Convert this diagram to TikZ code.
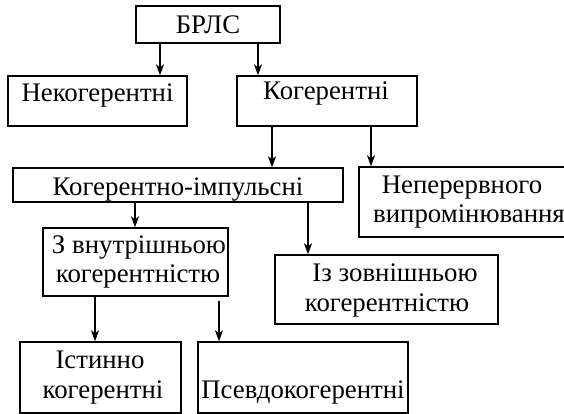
\documentclass[tikz,border=0pt]{standalone}
\usepackage{fontspec}
\setmainfont{Liberation Serif}
\usetikzlibrary{arrows.meta}
\begin{document}
\begin{tikzpicture}[x=1pt,y=-1pt,
  box/.style={draw,line width=1.4pt,inner sep=0pt,rectangle},
  lbl/.style={anchor=base,inner sep=0pt,font=\fontsize{26.8}{30}\selectfont},
  arr/.style={line width=1.8pt,-{Stealth[length=11pt,width=8pt,inset=3pt]}}]
\useasboundingbox (0,0) rectangle (564,414);
% boxes
\node[box,minimum width=144pt,minimum height=37pt] (brls) at (208,24.5) {};
\node[box,minimum width=179pt,minimum height=50pt] (nek) at (97.5,101) {};
\node[box,minimum width=180pt,minimum height=50pt] (kog) at (327,101) {};
\node[box,minimum width=330pt,minimum height=34pt] (ki) at (178,185) {};
\node[box,minimum width=208pt,minimum height=70pt] (nep) at (463,202) {};
\node[box,minimum width=185pt,minimum height=68pt] (zv) at (135.5,262) {};
\node[box,minimum width=223pt,minimum height=69pt] (iz) at (386.5,289.5) {};
\node[box,minimum width=161pt,minimum height=71pt] (ist) at (100.5,377.5) {};
\node[box,minimum width=210pt,minimum height=71pt] (ps) at (303,377.5) {};
% texts
\node[lbl] (tbrls) at (208,34) {БРЛС};
\node[lbl] (tnek) at (97.5,102) {Некогерентні};
\node[lbl] (tkog) at (326,100) {Когерентні};
\node[lbl] (tki) at (178,195) {Когерентно-імпульсні};
\node[lbl] (tnep1) at (462,193) {Неперервного};
\node[lbl] (tnep2) at (469,222) {випромінювання};
\node[lbl] (tzv1) at (139,253) {З внутрішньою};
\node[lbl] (tzv2) at (138,282) {когерентністю};
\node[lbl] (tiz1) at (395,281) {Із зовнішньою};
\node[lbl] (tiz2) at (387,311) {когерентністю};
\node[lbl] (tist1) at (100,368) {Істинно};
\node[lbl] (tist2) at (103,398) {когерентні};
\node[lbl] (tps) at (303,398) {Псевдокогерентні};
% arrows
\draw[arr] (brls.south -| 160,0) -- (nek.north -| 160,0);
\draw[arr] (brls.south -| 258,0) -- (kog.north -| 258,0);
\draw[arr] (kog.south -| 272,0) -- (ki.north -| 272,0);
\draw[arr] (kog.south -| 371,0) -- (nep.north -| 371,0);
\draw[arr] (ki.south -| 135,0) -- (zv.north -| 135,0);
\draw[arr] (ki.south -| 308,0) -- (iz.north -| 308,0);
\draw[arr] (zv.south -| 95,0) -- (ist.north -| 95,0);
\draw[arr] ([yshift=-4pt]zv.south -| 219,0) -- (ps.north -| 219,0);
\end{tikzpicture}
\end{document}
